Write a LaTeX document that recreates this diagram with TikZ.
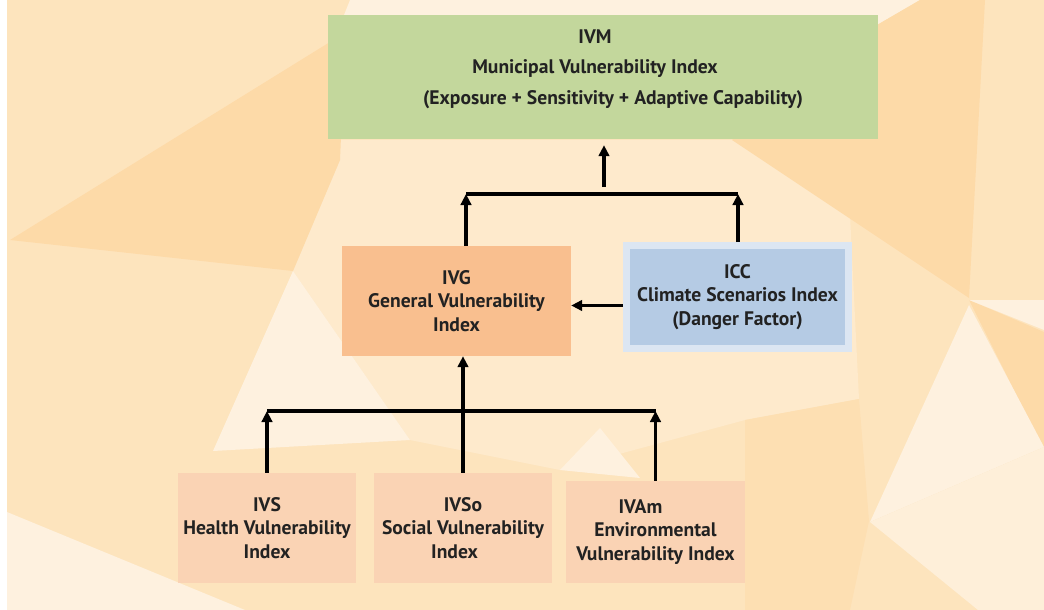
\documentclass[tikz,border=0pt]{standalone}
\usepackage{fontspec}
\setmainfont{PT Sans}
\usepackage{tikz}
\usetikzlibrary{arrows.meta}
\definecolor{bgbase}{RGB}{253,228,189}
\definecolor{bgdark}{RGB}{253,218,168}
\definecolor{bgmid}{RGB}{254,234,204}
\definecolor{bglight}{RGB}{254,241,223}
\definecolor{ivmgreen}{RGB}{195,215,156}
\definecolor{ivgorange}{RGB}{249,191,143}
\definecolor{subpeach}{RGB}{250,211,180}
\definecolor{iccblue}{RGB}{181,203,228}
\definecolor{iccrim}{RGB}{220,230,242}
\definecolor{inkgray}{RGB}{34,34,34}
\newcommand{\boxfont}{\fontsize{19.6}{23.3}\selectfont\bfseries}
\tikzset{
	conn/.style = {line width=3.1pt, -{Triangle[length=11pt,width=10.5pt]}},
	bar/.style = {line width=3.1pt}
}

\begin{document}
\begin{tikzpicture}[x=1pt, y=-1pt,
			box/.style={minimum width=178pt, minimum height=110.6pt, inner sep=2pt, align=center, text=inkgray, font=\boxfont},
			greenbox/.style={box, fill=ivmgreen, minimum width=550pt, minimum height=124pt},
			orangebox/.style={box, fill=ivgorange, minimum width=229pt, minimum height=110pt},
			bluebox/.style={box, fill=iccblue, draw=iccrim, line width=7pt, minimum width=222.5pt, minimum height=103pt},
			peachbox/.style={box, fill=subpeach},
			plaintext/.style={align=center, text=inkgray, font=\fontsize{19.6}{30.6}\selectfont\bfseries, inner sep=0pt}
			]
			\useasboundingbox (0,0) rectangle (1044,610);
			
			% Hintergrund aus Dreiecken
			\fill[bgbase] (7,0) rectangle (1044,610);
			\fill[bgmid] (340,140) -- (732,140) -- (850,215) -- (859,399) -- (745,420) -- (560,470) -- (410,440) -- (293,271) -- (340,160) -- cycle;
			\fill[bglight] (350,0) -- (920,0) -- (877,25) -- (340,25) -- cycle;
			\fill[bgdark] (10,240) -- (330,42) -- (345,42) -- (340,160) -- (293,271) -- cycle;
			\fill[bgdark] (732,140) -- (877,25) -- (920,0) -- (985,0) -- (969,298) -- cycle;
			\fill[bgdark] (969,300) -- (1044,332) -- (1044,450) -- cycle;
			\fill[bgdark!50!bgbase] (745,420) -- (859,399) -- (869,521) -- (850,610) -- (745,610) -- cycle;
			\fill[bglight] (293,271) -- (213,451) -- (410,440) -- cycle;
			\fill[bglight] (7,512) -- (245,610) -- (7,610) -- cycle;
			\fill[bglight] (969,305) -- (870,522) -- (1044,447) -- cycle;
			\fill[bglight] (969,300) -- (1044,300) -- (1044,330) -- cycle;
			\fill[bglight!70!bgmid] (870,522) -- (1044,447) -- (1044,610) -- (978,610) -- cycle;
			\fill[bglight] (560,470) -- (600,428) -- (640,478) -- cycle;
			
			% Boxen
			\node[greenbox] (ivm) at (603,77) {};
			\node[plaintext] (ivmtext) at (595,69) {IVM\\
				Municipal Vulnerability Index\\
				\hspace*{36pt}(Exposure + Sensitivity + Adaptive Capability)};
			\node[orangebox] (ivg) at (456.5,301) {IVG\\General Vulnerability\\Index};
			\node[bluebox] (icc) at (737.5,297) {ICC\\Climate Scenarios Index\\(Danger Factor)};
			\node[peachbox] (ivs) at (267,528) {IVS\\Health Vulnerability\\Index};
			\node[peachbox] (ivso) at (463,528) {IVSo\\Social Vulnerability\\Index\hspace*{17pt}};
			\node[peachbox, minimum height=102.6pt, minimum width=179pt] (ivam) at (655.5,532) {IVAm\hspace*{30pt}\\Environmental\hspace*{12pt}\\Vulnerability Index};
			
			% Verbindungen
			\coordinate (lowbar) at (464,411);
			\coordinate (topbarL) at (466,194);
			\coordinate (topbarR) at (738,194);
			\coordinate (topjoin) at (604,187);
			\coordinate (sidey) at (600,305.5);
			\draw[bar] (ivs.north |- lowbar) -- (ivam.north |- lowbar);
			\draw[conn] (ivs.north) -- (ivs.north |- lowbar);
			\draw[conn] (ivam.north) -- (ivam.north |- lowbar);
			\draw[conn] (ivso.north) -- (ivso.north |- ivg.south);
			\draw[conn] (icc.west |- sidey) -- (ivg.east |- sidey);
			\draw[bar] (topbarL) -- (topbarR);
			\draw[conn] (ivg.north -| topbarL) -- (topbarL);
			\draw[conn] (icc.north -| topbarR) -- (topbarR);
			\draw[conn, shorten >=6pt] (topjoin) -- (topjoin |- ivm.south);
		\end{tikzpicture}
\end{document}
